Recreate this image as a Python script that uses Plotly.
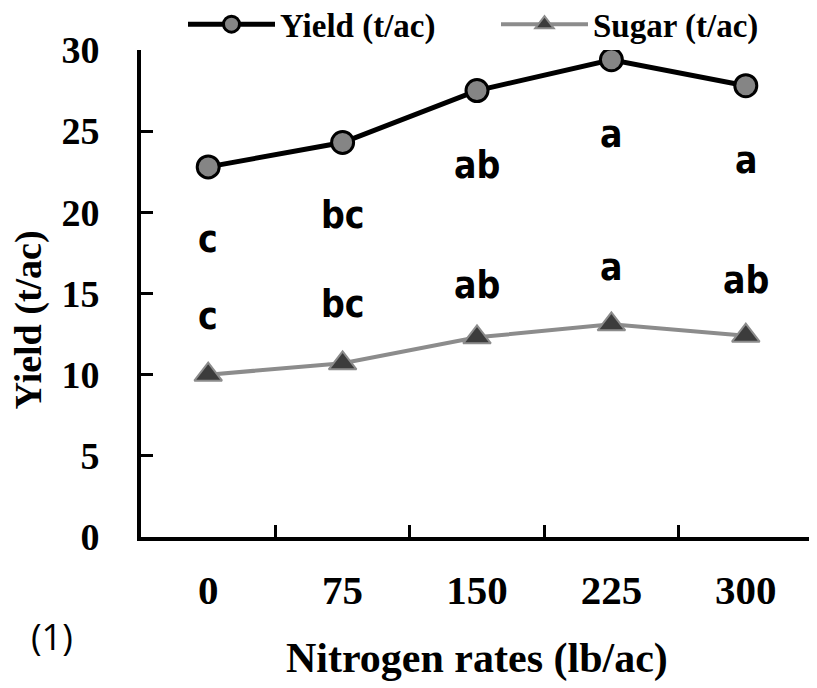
import plotly.graph_objects as go

categories = ["0", "75", "150", "225", "300"]
yield_vals = [22.8, 24.3, 27.5, 29.4, 27.8]
sugar_vals = [10.0, 10.7, 12.3, 13.1, 12.4]
yield_letters = ["c", "bc", "ab", "a", "a"]
yield_letter_y = [18.3, 19.8, 22.9, 24.8, 23.2]
sugar_letters = ["c", "bc", "ab", "a", "ab"]
sugar_letter_y = [13.6, 14.3, 15.5, 16.6, 15.8]
y_ticks = [0, 5, 10, 15, 20, 25, 30]

serif = "Liberation Serif, Times New Roman, serif"
narrow = "Liberation Sans Narrow, DejaVu Sans Condensed, sans-serif"

fig = go.Figure()
fig.add_trace(go.Scatter(
    x=categories, y=yield_vals, name="Yield (t/ac)", mode="lines+markers",
    line=dict(color="black", width=5),
    marker=dict(symbol="circle", size=22, color="#858585",
                line=dict(color="black", width=3)),
))
fig.add_trace(go.Scatter(
    x=categories, y=sugar_vals, name="Sugar (t/ac)", mode="lines+markers",
    line=dict(color="#8c8c8c", width=4),
    marker=dict(symbol="triangle-up", size=24, color="#3c3c3c",
                line=dict(color="#8c8c8c", width=2)),
))

for i, (t, yv) in enumerate(zip(yield_letters, yield_letter_y)):
    fig.add_annotation(x=i, y=yv, text=t, showarrow=False, yanchor="middle",
                       font=dict(family=narrow, size=37, color="black", weight="bold"))
for i, (t, yv) in enumerate(zip(sugar_letters, sugar_letter_y)):
    fig.add_annotation(x=i, y=yv, text=t, showarrow=False, yanchor="middle",
                       font=dict(family=narrow, size=37, color="black", weight="bold"))

# axis titles and panel label
fig.add_annotation(xref="paper", yref="paper", x=0.5, y=-0.25, yanchor="middle",
                   text="Nitrogen rates (lb/ac)", showarrow=False,
                   font=dict(family=serif, size=42, color="black", weight="bold"))
fig.add_annotation(xref="paper", yref="paper", x=-0.168, y=0.445, xanchor="center",
                   yanchor="middle", textangle=-90, text="Yield (t/ac)", showarrow=False,
                   font=dict(family=serif, size=38, color="black", weight="bold"))
fig.add_annotation(xref="paper", yref="paper", x=-0.133, y=-0.205, xanchor="center",
                   yanchor="middle", text="(1)", showarrow=False,
                   font=dict(family="Open Sans, DejaVu Sans, sans-serif", size=36, color="black"))

fig.update_layout(
    width=809, height=680,
    margin=dict(l=133, r=4, t=42, b=151, autoexpand=False),
    plot_bgcolor="white", paper_bgcolor="white",
    showlegend=True,
    legend=dict(orientation="h", x=0.0625, y=1.053, xanchor="left", yanchor="middle",
                itemwidth=87, entrywidth=211, entrywidthmode="pixels",
                font=dict(family=serif, size=33, color="black", weight="bold"),
                bgcolor="rgba(0,0,0,0)"),
    xaxis=dict(type="category", range=[-0.5, 4.5], tickson="boundaries",
               ticks="inside", ticklen=12, tickwidth=3, tickcolor="black",
               showline=True, linecolor="black", linewidth=4,
               showgrid=False, zeroline=False, ticklabelstandoff=14,
               tickfont=dict(family=serif, size=41, color="black", weight="bold")),
    yaxis=dict(range=[0, 30], tickvals=y_ticks, ticks="inside", ticklen=12,
               tickwidth=3, tickcolor="black", showline=True, linecolor="black",
               linewidth=4, showgrid=False, zeroline=False, ticklabelstandoff=30,
               tickfont=dict(family=serif, size=38, color="black", weight="bold")),
)

fig.write_html("out.html")
